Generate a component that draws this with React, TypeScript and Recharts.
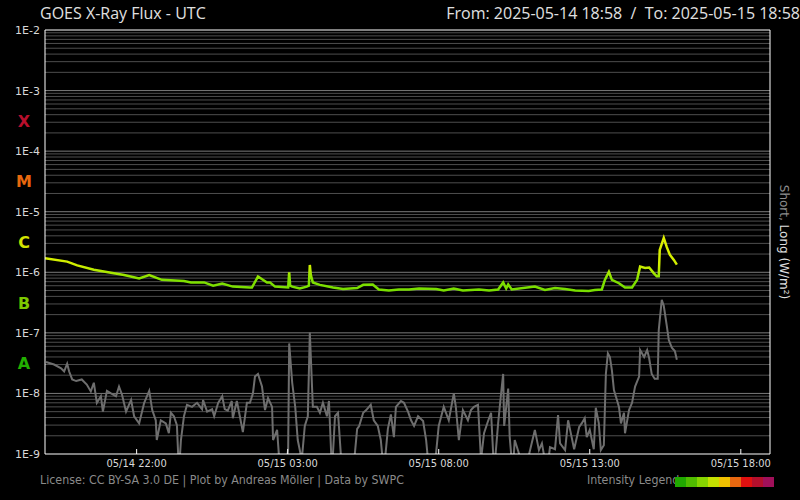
import React from "react";
import { LineChart, Line, XAxis, YAxis, ReferenceLine } from "recharts";

// minutes after 2025-05-14 18:58 UTC, flux in nW/m² (1e-9 W/m²)
const LONG_T = [0, 44, 64, 97, 131, 157, 187, 207, 232, 276, 290, 316, 334, 352, 373, 407, 411, 423, 441, 447, 457, 483, 485, 487, 491, 506, 520, 524, 526, 528, 532, 546, 572, 592, 620, 632, 651, 663, 683, 703, 723, 743, 777, 792, 812, 830, 862, 882, 900, 910, 916, 920, 927, 973, 993, 1013, 1033, 1053, 1080, 1092, 1106, 1112, 1120, 1126, 1140, 1152, 1166, 1176, 1182, 1192, 1200, 1209, 1215, 1219, 1221, 1229, 1235, 1241, 1249, 1255];
const LONG_NW = [1700, 1500, 1300, 1100, 980, 900, 790, 900, 750, 720, 680, 680, 600, 650, 580, 560, 560, 850, 680, 680, 580, 560, 1000, 600, 580, 540, 580, 600, 1320, 900, 680, 620, 560, 530, 550, 620, 630, 520, 500, 520, 520, 540, 530, 500, 540, 500, 520, 500, 520, 680, 540, 630, 520, 580, 510, 550, 530, 500, 490, 510, 520, 750, 1020, 750, 660, 560, 560, 750, 1240, 1180, 1200, 970, 860, 860, 2340, 3700, 2600, 1950, 1600, 1340];

const SHORT_T = [2, 18, 32, 38, 44, 48, 54, 62, 73, 83, 91, 97, 103, 111, 115, 123, 131, 141, 147, 153, 161, 171, 177, 187, 197, 207, 213, 220, 222, 230, 240, 246, 250, 256, 262, 266, 270, 276, 282, 292, 302, 312, 314, 322, 332, 336, 344, 352, 357, 363, 371, 373, 381, 387, 393, 401, 407, 413, 417, 423, 431, 437, 443, 451, 453, 461, 467, 477, 483, 485, 491, 497, 502, 510, 516, 522, 526, 532, 540, 546, 552, 560, 564, 570, 576, 582, 590, 600, 612, 620, 624, 632, 638, 647, 653, 661, 667, 673, 681, 687, 693, 697, 707, 713, 721, 727, 733, 741, 751, 757, 763, 773, 782, 792, 802, 812, 816, 822, 830, 840, 846, 852, 860, 866, 872, 880, 886, 892, 900, 904, 910, 912, 920, 923, 929, 933, 953, 973, 981, 987, 997, 1003, 1013, 1019, 1023, 1033, 1039, 1043, 1051, 1061, 1066, 1072, 1076, 1082, 1090, 1094, 1100, 1104, 1110, 1114, 1118, 1122, 1126, 1130, 1136, 1140, 1144, 1150, 1152, 1160, 1166, 1172, 1180, 1182, 1190, 1196, 1200, 1205, 1211, 1217, 1219, 1225, 1229, 1235, 1239, 1245, 1251, 1255];
const SHORT_NW = [33, 30, 26, 23, 31, 23, 17, 16, 17, 14, 10.8, 15, 7, 9, 5, 11, 10, 9, 13, 9.5, 5, 7.8, 4.2, 3.2, 7, 11, 5.3, 3.6, 1.7, 3.6, 3.2, 2.2, 4.8, 4.2, 3, 0.5, 1.7, 4.2, 6.5, 6, 7, 5.5, 7.8, 5, 5.5, 4.2, 7, 9, 5.5, 5.2, 7.5, 3.9, 7.5, 4.2, 2.3, 7, 7, 10, 19, 21, 13, 5.3, 8.4, 6, 1.7, 2.5, 0.5, 0.5, 1.2, 67, 15, 6, 1.7, 0.8, 2.9, 4.2, 101, 6, 6, 4.8, 7, 4.2, 7.5, 0.5, 4.2, 4.8, 0.5, 0.5, 0.5, 2.6, 2.9, 4.8, 5.3, 6.5, 3.6, 2.9, 1.7, 0.5, 2.6, 4.5, 1.9, 6, 7.5, 7, 5, 3.6, 2.9, 4.2, 3.5, 1.7, 0.5, 0.5, 2.9, 6, 3.6, 10, 6, 1.7, 5.3, 3.6, 5.3, 6, 6.5, 0.8, 2.2, 3.5, 4.8, 0.5, 3.2, 7, 21, 2.9, 12, 1.9, 0.5, 1.7, 0.5, 2.5, 1.16, 1.5, 0.5, 1.3, 1.2, 4.4, 1.5, 1.16, 3.6, 2.5, 1.2, 2.8, 3.2, 3.9, 1.9, 2.5, 1.2, 5.8, 3.2, 1.16, 1.4, 21, 46, 40, 24, 11.4, 7.8, 6, 3.2, 4.8, 2.2, 5.3, 7, 13, 19, 52, 40, 52, 38, 21, 17.5, 17.5, 110, 350, 280, 130, 76, 57, 50, 36];

const Y_TICKS = [1e-9, 1e-8, 1e-7, 1e-6, 1e-5, 1e-4, 1e-3, 1e-2];
const CLASS_TICKS = [3.16e-8, 3.16e-7, 3.16e-6, 3.16e-5, 3.16e-4];
const CLASS_NAMES = ["A", "B", "C", "M", "X"];
const CLASS_COLORS = ["#22b000", "#7cc800", "#d4e400", "#e8680e", "#b80f2c"];
const X_TICKS = [182, 482, 782, 1082, 1382];
const LEGEND_COLORS = ["#20a800", "#50bc00", "#86d400", "#c4e000", "#f0c000", "#e86810", "#e01010", "#b40f2c", "#a0105a"];

const START_MIN = 18 * 60 + 58;

const longData = LONG_T.map((t, i) => ({ t, v: LONG_NW[i] * 1e-9 }));
const shortData = SHORT_T.map((t, i) => ({ t, v: SHORT_NW[i] * 1e-9 }));

// grid lines at every 1..9 x 10^n
const gridLines: { v: number; major: boolean }[] = [];
for (let n = -9; n <= -3; n++) {
  for (let k = 1; k <= 9; k++) {
    if (n === -9 && k === 1) continue;
    gridLines.push({ v: k * Math.pow(10, n), major: k === 1 });
  }
}

// gradient stops for the long channel (yellow above ~C1, green below)
const lmax = Math.log10(Math.max(...LONG_NW));
const lmin = Math.log10(Math.min(...LONG_NW));
const off = (nw: number) => Math.min(1, Math.max(0, (lmax - Math.log10(nw)) / (lmax - lmin)));

const fmtTime = (t: number) => {
  const total = START_MIN + t;
  const day = 14 + Math.floor(total / 1440);
  const m = total % 1440;
  const hh = String(Math.floor(m / 60)).padStart(2, "0");
  const mm = String(m % 60).padStart(2, "0");
  return `05/${day} ${hh}:${mm}`;
};

const fmtExp = (v: number) => "1E" + Math.round(Math.log10(v));

const YTick = ({ x, y, payload }: any) => {
  const idx = CLASS_TICKS.indexOf(payload.value);
  if (idx >= 0) {
    return (
      <text x={24} y={y} dy={6} textAnchor="middle" fill={CLASS_COLORS[idx]} fontSize={16} fontWeight="bold" fontFamily="DejaVu Sans">
        {CLASS_NAMES[idx]}
      </text>
    );
  }
  return (
    <text x={x} y={y} dy={4} textAnchor="end" fill="#d8d8d8" fontSize={11} fontFamily="DejaVu Sans">
      {fmtExp(payload.value)}
    </text>
  );
};

const BottomTick = ({ x, y, payload }: any) => (
  <g>
    <line x1={x} x2={x} y1={y} y2={y - 5} stroke="#ffffff" />
    <text x={x} y={y + 13} textAnchor="middle" fill="#d8d8d8" fontSize={11} fontFamily="DejaVu Sans Condensed, DejaVu Sans" style={{ fontStretch: "condensed" }}>
      {fmtTime(payload.value)}
    </text>
  </g>
);

const TopTick = ({ x, y }: any) => <line x1={x} x2={x} y1={y} y2={y + 5} stroke="#ffffff" />;

const footStyle: React.CSSProperties = {
  position: "absolute",
  top: 473,
  color: "#8a8a8a",
  fontFamily: "DejaVu Sans Condensed, DejaVu Sans",
  fontStretch: "condensed",
  fontSize: 12.3,
  whiteSpace: "pre",
};

export default function App() {
  return (
    <div style={{ position: "absolute", left: 0, top: 0, width: 800, height: 500, background: "#000", overflow: "hidden" }}>
      <div style={{ position: "absolute", left: 40, top: 2, color: "#e0e0e0", fontFamily: "Open Sans", fontSize: 16 }}>
        GOES X-Ray Flux - UTC
      </div>
      <div style={{ position: "absolute", right: 0, top: 2, color: "#e0e0e0", fontFamily: "Open Sans", fontSize: 16, whiteSpace: "pre" }}>
        {"From: 2025-05-14 18:58  /  To: 2025-05-15 18:58"}
      </div>
      <LineChart width={800} height={500} margin={{ top: 0, right: 0, bottom: 0, left: 0 }}>
        <defs>
          <linearGradient id="longGrad" x1="0" y1="0" x2="0" y2="1">
            <stop offset={0} stopColor="#e0f000" />
            <stop offset={off(1300)} stopColor="#d0ee00" />
            <stop offset={off(750)} stopColor="#80e000" />
            <stop offset={1} stopColor="#78de00" />
          </linearGradient>
        </defs>
        <XAxis
          xAxisId="bottom"
          type="number"
          dataKey="t"
          domain={[0, 1440]}
          ticks={X_TICKS}
          allowDataOverflow
          height={46}
          tickSize={0}
          tickMargin={0}
          tickLine={false}
          axisLine={{ stroke: "#ffffff" }}
          tick={<BottomTick />}
          interval={0}
        />
        <XAxis
          xAxisId="top"
          orientation="top"
          type="number"
          dataKey="t"
          domain={[0, 1440]}
          ticks={X_TICKS}
          height={30}
          tickSize={0}
          tickMargin={0}
          tickLine={false}
          axisLine={{ stroke: "#ffffff" }}
          tick={<TopTick />}
          interval={0}
        />
        <YAxis
          yAxisId="left"
          scale="log"
          domain={[1e-9, 1e-2]}
          allowDataOverflow
          ticks={[...Y_TICKS, ...CLASS_TICKS]}
          interval={0}
          width={45}
          tickSize={0}
          tickMargin={5}
          tickLine={false}
          axisLine={{ stroke: "#ffffff" }}
          tick={<YTick />}
        />
        <YAxis
          yAxisId="right"
          orientation="right"
          scale="log"
          domain={[1e-9, 1e-2]}
          width={30}
          tick={false}
          tickLine={false}
          axisLine={{ stroke: "#ffffff" }}
        />
        {gridLines.map((g) => (
          <ReferenceLine
            key={g.v}
            xAxisId="bottom"
            yAxisId="left"
            y={g.v}
            stroke={g.major ? "#7a7a7a" : "#4e4e4e"}
            strokeWidth={1}
          />
        ))}
        <Line
          xAxisId="bottom"
          yAxisId="left"
          data={shortData}
          dataKey="v"
          stroke="#6e6e6e"
          strokeWidth={2}
          dot={false}
          isAnimationActive={false}
        />
        <Line
          xAxisId="bottom"
          yAxisId="left"
          data={longData}
          dataKey="v"
          stroke="url(#longGrad)"
          strokeWidth={2.5}
          dot={false}
          isAnimationActive={false}
        />
      </LineChart>
      <svg width={800} height={500} style={{ position: "absolute", left: 0, top: 0, pointerEvents: "none" }}>
        <text transform="translate(780,242) rotate(90)" textAnchor="middle" fontSize={12} fontFamily="DejaVu Sans">
          <tspan fill="#8c8c8c">Short, </tspan>
          <tspan fill="#e0e0e0">Long (W/m²)</tspan>
        </text>
      </svg>
      <div style={{ ...footStyle, left: 40 }}>
        License: CC BY-SA 3.0 DE | Plot by Andreas Möller | Data by SWPC
      </div>
      <div style={{ ...footStyle, left: 587 }}>Intensity Legend</div>
      <div style={{ position: "absolute", left: 675, top: 477, display: "flex" }}>
        {LEGEND_COLORS.map((c) => (
          <div key={c} style={{ width: 11, height: 10, background: c }} />
        ))}
      </div>
    </div>
  );
}
